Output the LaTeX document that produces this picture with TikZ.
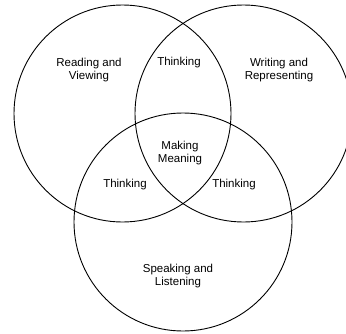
\documentclass[tikz,border=0pt]{standalone}
\usepackage{fontspec}
\setmainfont{Liberation Sans}
\begin{document}
\begin{tikzpicture}[x=1pt,y=-1pt,
  ring/.style={draw=black,line width=0.9pt},
  lbl/.style={align=center,font=\fontsize{11.5}{13.5}\selectfont,inner sep=0pt}]
\useasboundingbox (0,0) rectangle (346,333);
\begin{scope}
\clip (0,0) rectangle (346,333);
\draw[ring] (122.5,113.5) circle[radius=108.5];
\draw[ring] (243.5,113.5) circle[radius=108.5];
\draw[ring] (183,222) circle[radius=109];
\end{scope}
\node[lbl] (rv) at (89,70) {Reading and\\Viewing};
\node[lbl] (wr) at (279,70) {Writing and\\Representing};
\node[lbl] (t1) at (179,63) {Thinking};
\node[lbl] (mm) at (180,153) {Making\\Meaning};
\node[lbl] (t2) at (125,185) {Thinking};
\node[lbl] (t3) at (234,185) {Thinking};
\node[lbl] (sl) at (178,276) {Speaking and\\Listening};
\end{tikzpicture}
\end{document}
